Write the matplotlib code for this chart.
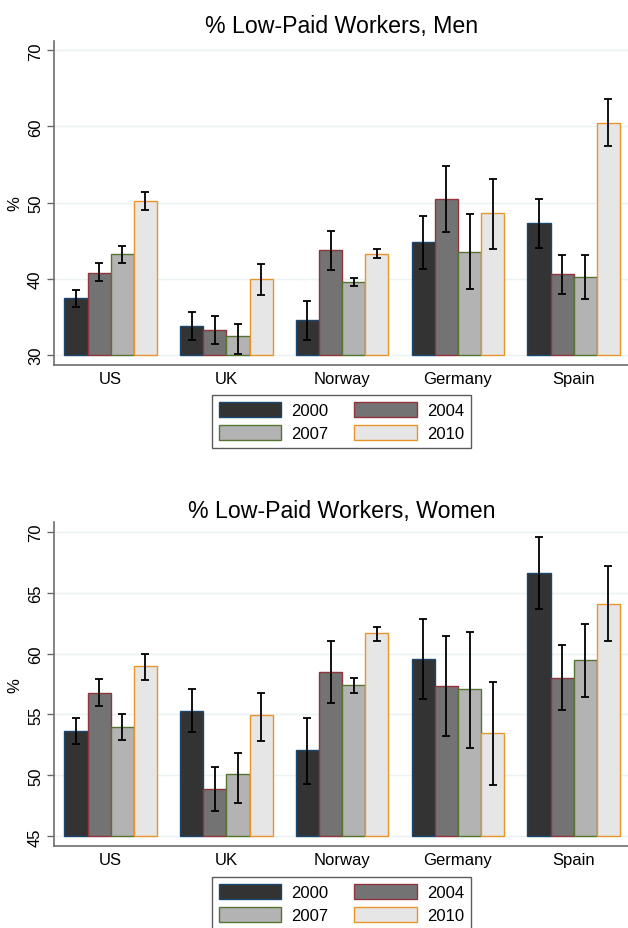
import matplotlib

matplotlib.use("Agg")
import matplotlib.pyplot as plt
from matplotlib.patches import Patch

plt.rcParams["font.family"] = ["Liberation Sans", "DejaVu Sans"]

countries = ["US", "UK", "Norway", "Germany", "Spain"]
years = [2000, 2004, 2007, 2010]

# % low-paid, men: mean and confidence bounds per year (US, UK, Norway, Germany, Spain)
men_mean = {
    2000: [37.4, 33.8, 34.6, 44.8, 47.25],
    2004: [40.8, 33.3, 43.7, 50.45, 40.55],
    2007: [43.2, 32.4, 39.5, 43.55, 40.2],
    2010: [50.2, 39.9, 43.3, 48.6, 60.5],
}
men_lo = {
    2000: [36.3, 32.0, 32.0, 41.3, 44.0],
    2004: [39.65, 31.4, 41.15, 46.15, 38.0],
    2007: [42.0, 30.1, 39.0, 38.6, 37.3],
    2010: [49.0, 37.85, 42.75, 43.95, 57.45],
}
men_hi = {
    2000: [38.5, 35.55, 37.1, 48.25, 50.45],
    2004: [42.0, 35.1, 46.3, 54.85, 43.15],
    2007: [44.35, 34.05, 40.1, 48.45, 43.1],
    2010: [51.4, 41.9, 43.95, 53.15, 63.55],
}

# % low-paid, women
women_mean = {
    2000: [53.65, 55.3, 52.05, 59.55, 66.65],
    2004: [56.8, 48.85, 58.5, 57.35, 58.0],
    2007: [53.95, 50.15, 57.4, 57.05, 59.45],
    2010: [58.95, 54.95, 61.65, 53.45, 64.1],
}
women_lo = {
    2000: [52.6, 53.55, 49.3, 56.25, 63.65],
    2004: [55.7, 47.05, 55.95, 53.25, 55.35],
    2007: [52.9, 47.75, 56.8, 52.25, 56.45],
    2010: [57.85, 52.85, 61.05, 49.2, 61.05],
}
women_hi = {
    2000: [54.7, 57.05, 54.75, 62.85, 69.6],
    2004: [57.9, 50.7, 61.05, 61.4, 60.7],
    2007: [55.05, 51.8, 58.0, 61.8, 62.4],
    2010: [60.0, 56.75, 62.2, 57.65, 67.15],
}

fills = {2000: "#333333", 2004: "#737373", 2007: "#b3b3b3", 2010: "#e6e6e6"}
edges = {2000: "#1a476f", 2004: "#90353b", 2007: "#55752f", 2010: "#e8962a"}

W, H = 628, 929
fig = plt.figure(figsize=(W / 100, H / 100), dpi=100)


def panel(rect, title, title_y, mean, lo, hi, base, ylim, yticks):
    ax = fig.add_axes(rect)
    width = 0.2
    for i, yr in enumerate(years):
        xs = [c + (i - 1.5) * width for c in range(len(countries))]
        heights = [m - base for m in mean[yr]]
        ax.bar(xs, heights, width, bottom=base, color=fills[yr],
               edgecolor=edges[yr], linewidth=1.0, zorder=2)
        err = [[m - l for m, l in zip(mean[yr], lo[yr])],
               [h - m for m, h in zip(mean[yr], hi[yr])]]
        ax.errorbar(xs, mean[yr], yerr=err, fmt="none", ecolor="black",
                    elinewidth=1.3, capsize=3.2, capthick=1.3, zorder=3)
    ax.set_xlim(-0.487, 4.469)
    ax.set_ylim(*ylim)
    ax.set_yticks(yticks)
    ax.set_yticklabels([str(t) for t in yticks], rotation=90, va="center")
    ax.set_xticks(range(len(countries)))
    ax.set_xticklabels(countries)
    ax.tick_params(axis="x", length=0, pad=4, labelsize=12)
    ax.tick_params(axis="y", length=4.7, width=1, color="#666666", pad=3.5, labelsize=12)
    ax.grid(axis="y", color="#eaf2f3", linewidth=1.0, zorder=0)
    ax.set_axisbelow(True)
    for s in ("top", "right"):
        ax.spines[s].set_visible(False)
    for s in ("left", "bottom"):
        ax.spines[s].set_color("#6e6e6e")
        ax.spines[s].set_linewidth(1.2)
    ax.set_ylabel("%", fontsize=12)
    ax.yaxis.set_label_coords(-0.056, 0.5)
    fig.text(342 / W, title_y, title, ha="center", va="baseline", fontsize=16.7)
    return ax


panel([54.3 / W, (H - 366) / H, (W - 54.3) / W, 324.3 / H],
      "% Low-Paid Workers, Men", (H - 33) / H,
      men_mean, men_lo, men_hi, 30, (28.65, 71.26), [30, 40, 50, 60, 70])
panel([54.3 / W, (H - 847.3) / H, (W - 54.3) / W, 324.0 / H],
      "% Low-Paid Workers, Women", (H - 518) / H,
      women_mean, women_lo, women_hi, 45, (44.18, 70.77), [45, 50, 55, 60, 65, 70])

# legend rows read 2000, 2004 / 2007, 2010 -> column-major order for matplotlib
leg_years = [2000, 2007, 2004, 2010]
handles = [Patch(facecolor=fills[y], edgecolor=edges[y], linewidth=1.0) for y in leg_years]
labels = [str(y) for y in leg_years]
for top in (396, 878.3):
    leg = fig.legend(handles, labels, ncol=2, loc="upper center",
                     bbox_to_anchor=(341.3 / W, (H - top) / H),
                     fontsize=12, frameon=True, fancybox=False,
                     handlelength=3.75, handleheight=1.0, handletextpad=0.6,
                     columnspacing=1.54, labelspacing=0.4, borderpad=0.42,
                     borderaxespad=0)
    leg.get_frame().set_edgecolor("#333333")
    leg.get_frame().set_linewidth(1.0)

fig.savefig("out.png", dpi=100)
